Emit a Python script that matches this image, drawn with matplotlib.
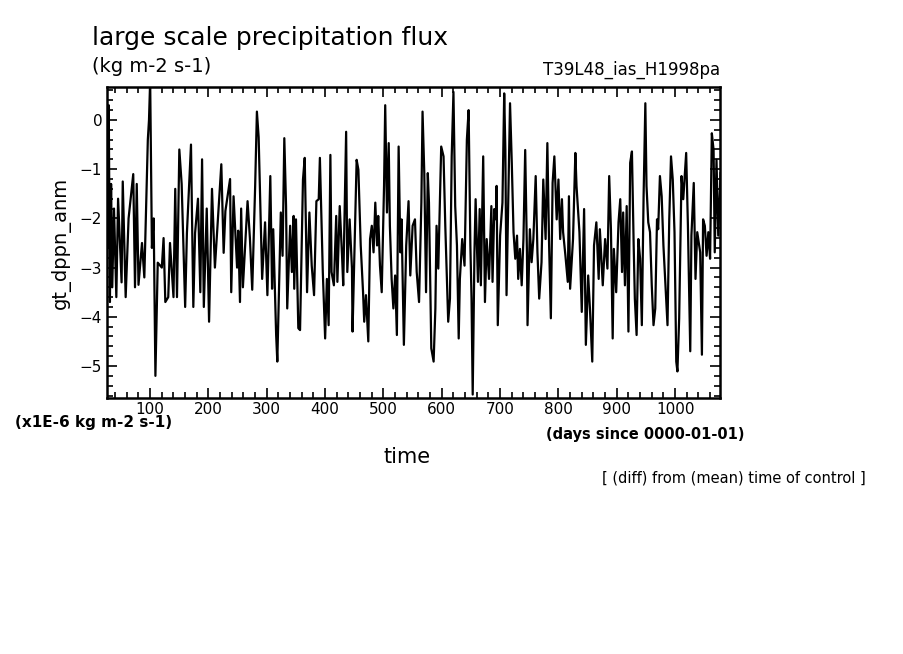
import matplotlib
matplotlib.use("Agg")
import matplotlib.pyplot as plt
from matplotlib.ticker import MultipleLocator

days = [27,29,31,33,35,38,42,45,51,53,58,63,71,74,77,80,86,90,96,98,100,103,106,109,113,120,123,126,131,134,140,143,146,150,154,160,163,170,174,177,182,186,189,192,197,201,206,211,222,226,229,237,239,243,249,251,254,256,259,267,271,275,280,283,286,
289,292,297,301,306,309,311,316,318,321,324,327,330,333,335,340,343,346,347,350,354,357,362,365,369,373,377,381,385,389,391,396,400,403,406,409,411,415,419,421,425,429,431,434,436,438,442,446,447,451,454,457,461,465,467,470,474,477,480,483,486,489,491,494,497,501,503,506,509,511,514,517,520,523,526,529,531,535,539,543,546,550,
554,557,561,565,567,570,573,576,578,582,586,589,591,594,599,603,606,609,611,614,617,620,623,626,629,631,635,639,643,646,649,651,653,656,658,662,665,667,671,674,677,681,685,687,690,693,694,696,700,704,707,709,711,714,717,720,723,726,729,731,734,737,740,743,746,747,751,754,757,761,764,767,771,774,778,781,784,787,790,793,797,800,803,806,808,812,816,818,
820,825,829,831,836,840,844,847,851,854,858,861,865,869,871,876,880,884,887,890,893,895,899,903,906,909,911,914,917,920,923,926,929,931,934,937,940,943,946,949,951,954,957,960,963,966,969,971,974,977,980,983,987,990,993,996,999,1002,1004,1007,1011,1014,1019,1022,1026,1028,1032,1035,1038,1043,1046,1048,1051,1054,1057,1060,1063,1066,1068,1071,1074,1078]

values = [-2.6,0.3,-3.7,-1.3,-3.4,-1.8,-3.6,-1.6,-3.3,-1.25,-3.6,-2.0,-1.1,-3.4,-1.3,-3.35,-2.5,-3.2,-0.4,0.0,0.8,-2.6,-2.0,-5.2,-2.9,-3.0,-2.4,-3.7,-3.6,-2.5,-3.6,-1.4,-3.6,-0.6,-1.3,-3.8,-2.3,-0.5,-3.8,-2.3,-1.6,-3.5,-0.8,-3.8,-1.8,-4.1,-1.4,-3.0,-0.9,-2.7,-1.85,-1.2,-3.5,-1.55,-3.0,-2.25,-3.7,-1.8,-3.4,-1.65,-2.4,-3.45,-1.35,0.17,-0.35,
-1.75,-3.23,-2.08,-3.56,-1.14,-3.43,-2.22,-4.37,-4.91,-3.43,-1.88,-2.76,-0.37,-1.75,-3.83,-2.15,-3.09,-1.95,-3.43,-2.02,-4.23,-4.27,-1.21,-0.77,-3.5,-1.88,-2.96,-3.56,-1.65,-1.61,-0.77,-3.09,-4.44,-3.23,-4.17,-0.71,-3.09,-3.36,-1.95,-3.29,-1.75,-2.76,-3.36,-1.48,-0.24,-3.09,-2.02,-3.02,-4.30,-2.35,-0.81,-1.01,-2.55,-3.5,-4.1,-3.56,-4.5,-2.42,-2.15,-2.69,-1.68,-2.55,-1.95,-2.96,-3.5,-1.34,0.30,-1.88,-0.47,-2.15,-3.23,-3.83,-3.16,-4.37,-0.54,-2.69,-2.02,-4.57,-2.55,-1.65,-3.16,-2.15,
-2.02,-3.09,-3.7,-1.68,0.17,-1.08,-3.5,-1.08,-1.68,-4.64,-4.91,-3.83,-2.15,-3.02,-0.54,-0.74,-2.15,-3.29,-4.1,-3.63,-0.74,0.57,-1.75,-2.55,-4.44,-3.23,-2.42,-2.96,-0.40,0.20,-2.55,-3.63,-5.58,-2.69,-1.61,-3.29,-1.81,-3.36,-0.74,-3.7,-2.42,-3.23,-1.75,-3.29,-1.81,-2.02,-1.34,-4.17,-2.35,-1.68,0.54,-0.61,-3.56,-1.55,0.34,-0.87,-2.28,-2.82,-2.35,-3.23,-2.62,-3.36,-2.42,-0.61,-2.69,-4.17,-2.22,-2.89,-2.42,-1.14,-2.69,-3.63,-2.89,-1.21,-2.42,-0.47,-2.55,-4.03,-1.28,-0.74,-2.02,-1.21,-2.42,-1.61,-2.28,-2.76,-3.29,-1.55,
-3.43,-2.42,-0.67,-1.34,-2.28,-3.9,-1.81,-4.57,-3.16,-3.83,-4.91,-2.55,-2.08,-3.23,-2.22,-3.36,-2.42,-3.02,-1.14,-2.22,-4.44,-2.62,-3.5,-2.08,-1.61,-3.09,-1.88,-3.36,-1.75,-4.3,-0.87,-0.64,-2.55,-3.63,-4.37,-2.42,-2.82,-4.17,-1.55,0.34,-1.34,-2.08,-2.28,-3.36,-4.17,-3.83,-2.02,-2.22,-1.14,-1.55,-2.55,-3.23,-4.17,-2.02,-0.74,-1.21,-2.28,-4.91,-5.11,-4.03,-1.14,-1.61,-0.67,-2.15,-4.7,-2.35,-1.28,-3.23,-2.28,-2.69,-4.77,-2.02,-2.15,-2.76,-2.28,-2.82,-0.27,-0.61,-2.69,-0.81,-2.35,-1.08]

fig = plt.figure(figsize=(9.04, 6.54), dpi=100)
ax = fig.add_axes([107/904, 1-398/654, 613/904, 311/654])
ax.plot(days, values, color='black', lw=1.6)
ax.set_xlim(26, 1077)
ax.set_ylim(-5.65, 0.67)
ax.xaxis.set_major_locator(MultipleLocator(100))
ax.xaxis.set_minor_locator(MultipleLocator(20))
ax.yaxis.set_major_locator(MultipleLocator(1))
ax.yaxis.set_minor_locator(MultipleLocator(0.2))
ax.tick_params(which='both', direction='in', top=True, right=True, width=1.2, labelsize=11)
ax.tick_params(which='major', length=7)
ax.tick_params(which='minor', length=4)
ax.tick_params(axis='x', pad=3)
for s in ax.spines.values():
    s.set_linewidth(1.8)
ax.set_ylabel('gt_dppn_anm', fontsize=14, labelpad=6)

fig.text(92/904, 1-38/654, 'large scale precipitation flux', fontsize=18, va='center', ha='left')
fig.text(92/904, 1-67/654, '(kg m-2 s-1)', fontsize=14, va='center', ha='left')
fig.text(720/904, 1-70/654, 'T39L48_ias_H1998pa', fontsize=12, va='center', ha='right')
fig.text(15/904, 1-423/654, '(x1E-6 kg m-2 s-1)', fontsize=11, va='center', ha='left', fontweight='bold')
fig.text(745/904, 1-435/654, '(days since 0000-01-01)', fontsize=10.5, va='center', ha='right', fontweight='bold')
fig.text(407/904, 1-457/654, 'time', fontsize=15, va='center', ha='center')
fig.text(866/904, 1-478/654, '[ (diff) from (mean) time of control ]', fontsize=10.5, va='center', ha='right')
fig.savefig('out.png', dpi=100)
